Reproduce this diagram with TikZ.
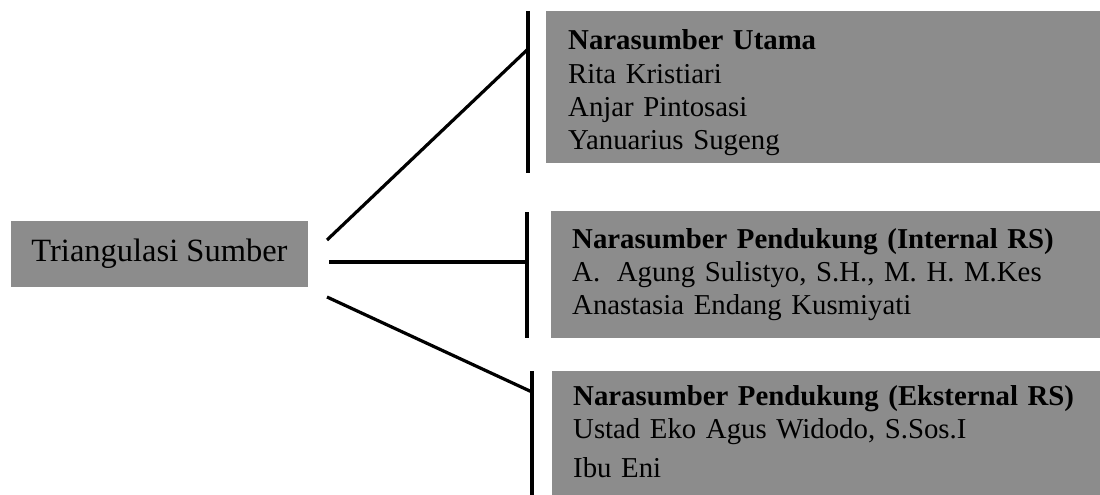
\documentclass[tikz,border=0pt]{standalone}
\usepackage{fontspec}
\setmainfont{Liberation Serif}
\definecolor{boxgray}{RGB}{140,140,140}
\begin{document}
\begin{tikzpicture}[x=1pt,y=-1pt,
  box/.style={fill=boxgray, draw=none, inner sep=0pt, anchor=north west},
  lbl/.style={anchor=base west, inner sep=0pt, align=left, text width=520pt,
    font=\fontsize{28.8}{33.3}\selectfont},
  link/.style={line width=3.2pt, black, line cap=butt}]
\useasboundingbox (0,0) rectangle (1100,495);

% source box
\node[fill=boxgray, inner sep=0pt, minimum width=297pt, minimum height=66pt,
  font=\fontsize{32.5}{36}\selectfont] (src) at (159.5,254) {Triangulasi Sumber};

% target boxes
\node[box, minimum width=554pt, minimum height=152pt] (box1) at (546,11) {};
\node[box, minimum width=549pt, minimum height=127pt] (box2) at (551,211) {};
\node[box, minimum width=548pt, minimum height=124pt] (box3) at (552,371) {};

\node[lbl] (t1) at (568,50) {\textbf{Narasumber Utama}\\Rita Kristiari\\Anjar Pintosasi\\Yanuarius Sugeng};
\node[lbl] (t2) at (572,248) {\textbf{Narasumber Pendukung (Internal RS)}\\A.\hspace{0.58em}Agung Sulistyo, S.H., M. H. M.Kes\\Anastasia Endang Kusmiyati};
\node[lbl] (t3) at (573,405) {\textbf{Narasumber Pendukung (Eksternal RS)}\\Ustad Eko Agus Widodo, S.Sos.I\\[6pt]Ibu Eni};

% bars
\coordinate (b1t) at (528,11);  \coordinate (b1b) at (528,173);
\coordinate (b2t) at (527,212); \coordinate (b2b) at (527,338);
\coordinate (b3t) at (532,371); \coordinate (b3b) at (532,495);
\draw[link] (b1t) -- (b1b);
\draw[link] (b2t) -- (b2b);
\draw[link] (b3t) -- (b3b);

% connectors
\coordinate (s1) at (327,240); \coordinate (j1) at (528,49);
\coordinate (s2) at (329,262); \coordinate (j2) at (527,262);
\coordinate (s3) at (327,297); \coordinate (j3) at (532,392);
\draw[link] (s1) -- (j1);
\draw[link] (s2) -- (j2);
\draw[link] (s3) -- (j3);
\end{tikzpicture}
\end{document}
